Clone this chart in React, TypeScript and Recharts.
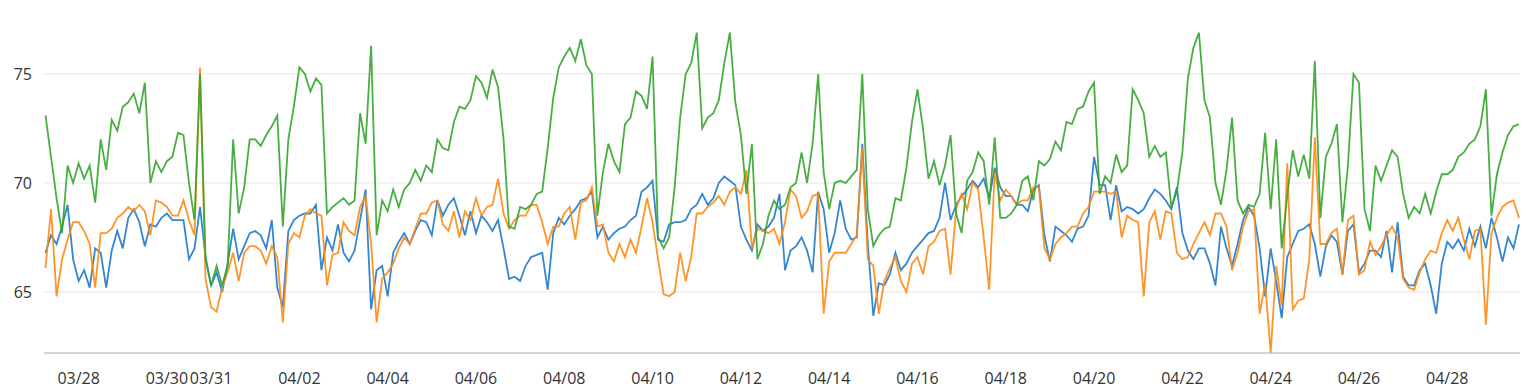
import { CartesianGrid, Line, LineChart, XAxis, YAxis } from "recharts"

// readings every 3 hours, starting 03/27 06:00 (hour -18 relative to 03/28 00:00)
const START_HOUR = -18
const STEP_HOURS = 3

const green = [
  73.1, 71.2, 69.3, 67.7, 70.8, 70.0, 70.9, 70.2, 70.8, 69.1,
  72.0, 70.6, 72.9, 72.4, 73.5, 73.7, 74.1, 73.2, 74.6, 70.0,
  71.0, 70.5, 71.0, 71.2, 72.3, 72.2, 70.0, 68.3, 75.0, 66.5,
  65.3, 66.2, 65.3, 66.2, 72.0, 68.6, 69.8, 72.0, 72.0, 71.7,
  72.2, 72.6, 73.1, 68.0, 72.0, 73.5, 75.3, 75.0, 74.2, 74.8,
  74.5, 68.6, 68.9, 69.1, 69.3, 69.0, 69.2, 73.2, 71.8, 76.3,
  67.6, 69.2, 68.7, 69.7, 68.9, 69.7, 70.0, 70.6, 70.1, 70.8,
  70.5, 72.0, 71.6, 71.5, 72.8, 73.5, 73.4, 73.8, 74.9, 74.6,
  73.9, 75.2, 74.4, 72.0, 68.0, 67.9, 68.9, 68.8, 69.0, 69.5,
  69.6, 71.6, 73.9, 75.3, 75.8, 76.2, 75.6, 76.6, 75.4, 75.0,
  68.5, 70.5, 71.8, 71.0, 70.5, 72.7, 73.0, 74.2, 74.0, 73.4,
  75.8, 67.5, 67.0, 67.5, 69.8, 73.0, 75.0, 75.5, 76.9, 72.5,
  73.0, 73.2, 73.8, 75.5, 76.9, 73.7, 72.2, 69.5, 71.8, 66.5,
  67.2, 68.5, 69.2, 68.8, 69.0, 69.8, 70.0, 71.4, 70.0, 71.8,
  75.0, 70.5, 68.8, 70.0, 70.1, 70.0, 70.3, 70.6, 75.0, 68.8,
  67.1, 67.6, 67.9, 68.0, 69.3, 69.2, 70.7, 72.8, 74.3, 72.5,
  70.2, 71.0, 69.9, 70.8, 72.2, 68.6, 67.7, 70.1, 70.5, 71.4,
  71.0, 69.0, 72.1, 68.4, 68.4, 68.6, 69.0, 70.1, 70.3, 69.2,
  71.0, 70.8, 71.1, 71.9, 71.5, 72.8, 72.7, 73.4, 73.5, 74.2,
  74.6, 69.5, 70.3, 70.0, 71.3, 70.5, 70.8, 74.3, 73.8, 73.2,
  71.2, 71.7, 71.2, 71.4, 68.9, 69.6, 71.4, 74.8, 76.2, 76.9,
  73.8, 73.0, 70.0, 69.0, 70.6, 73.0, 69.2, 68.6, 69.0, 68.9,
  69.5, 72.3, 68.8, 72.0, 67.0, 69.4, 71.5, 70.3, 71.3, 70.2,
  75.6, 68.4, 71.2, 71.8, 72.7, 68.2, 70.8, 75.0, 74.6, 68.8,
  67.8, 70.8, 70.1, 70.8, 71.5, 71.2, 69.5, 68.4, 68.9, 68.6,
  69.5, 68.6, 69.6, 70.4, 70.4, 70.6, 71.2, 71.4, 71.8, 72.0,
  72.6, 74.3, 68.5, 70.4, 71.4, 72.2, 72.6, 72.7,
]

const blue = [
  66.8, 67.6, 67.2, 68.0, 69.0, 66.5, 65.5, 66.0, 65.2, 67.0,
  66.8, 65.2, 66.9, 67.8, 67.0, 68.4, 68.8, 68.2, 67.1, 68.1,
  68.0, 68.4, 68.6, 68.3, 68.3, 68.3, 66.5, 67.0, 68.9, 66.6,
  65.3, 65.9, 65.0, 66.3, 67.9, 66.5, 67.1, 67.7, 67.8, 67.6,
  67.0, 68.3, 65.2, 64.3, 67.8, 68.3, 68.5, 68.6, 68.6, 69.0,
  66.0, 67.5, 66.9, 68.1, 66.8, 66.4, 66.9, 68.3, 69.7, 64.2,
  66.0, 66.2, 64.8, 66.8, 67.3, 67.7, 67.2, 67.8, 68.3, 68.2,
  67.6, 69.2, 68.5, 69.0, 69.3, 68.5, 67.6, 68.7, 67.7, 68.5,
  68.2, 67.8, 68.3, 67.0, 65.6, 65.7, 65.5, 66.2, 66.6, 66.7,
  66.8, 65.1, 67.7, 68.4, 68.1, 68.5, 68.8, 69.2, 69.3, 69.6,
  67.5, 68.0, 67.4, 67.7, 67.9, 68.0, 68.3, 68.5, 69.6, 69.8,
  70.1, 67.4, 67.3, 68.1, 68.2, 68.2, 68.3, 68.8, 69.0, 69.5,
  69.0, 69.3, 70.0, 70.3, 70.1, 69.9, 68.0, 67.4, 66.9, 68.1,
  67.8, 68.0, 68.4, 69.5, 66.0, 66.9, 67.1, 67.5, 66.9, 65.9,
  69.6, 68.8, 66.8, 67.7, 69.2, 67.9, 67.4, 67.5, 71.8, 67.2,
  63.9, 65.4, 65.3, 65.8, 66.8, 66.0, 66.3, 66.8, 67.1, 67.4,
  67.7, 67.8, 68.4, 70.0, 68.3, 69.0, 69.4, 69.7, 70.1, 69.8,
  70.2, 69.3, 70.7, 69.8, 69.4, 69.4, 69.0, 69.0, 68.7, 69.7,
  69.9, 67.6, 66.4, 68.0, 67.8, 67.6, 67.3, 67.9, 68.0, 68.5,
  71.2, 69.9, 69.9, 68.3, 69.9, 68.7, 68.9, 68.8, 68.6, 68.8,
  69.3, 69.7, 69.5, 69.2, 68.8, 69.8, 67.7, 66.9, 66.5, 67.0,
  67.0, 66.3, 65.3, 68.0, 67.0, 66.2, 67.2, 68.3, 68.9, 68.5,
  67.0, 64.8, 67.0, 65.5, 63.8, 66.6, 67.2, 67.8, 67.9, 68.1,
  67.2, 65.7, 67.1, 67.6, 67.3, 65.8, 67.8, 68.1, 65.9, 66.3,
  66.9, 66.9, 66.6, 67.8, 65.9, 68.2, 65.7, 65.3, 65.3, 66.0,
  66.3, 65.3, 64.0, 66.3, 67.3, 67.0, 67.4, 66.9, 67.9, 67.1,
  68.0, 67.0, 68.4, 67.5, 66.4, 67.5, 67.0, 68.1,
]

const orange = [
  66.1, 68.8, 64.8, 66.5, 67.4, 68.2, 68.2, 67.8, 67.2, 65.2,
  67.7, 67.7, 67.9, 68.4, 68.6, 68.9, 68.7, 69.0, 68.7, 67.6,
  69.2, 69.1, 68.9, 68.5, 68.5, 69.2, 68.3, 67.6, 75.3, 65.6,
  64.3, 64.1, 65.2, 65.9, 66.8, 65.5, 66.8, 67.1, 67.1, 66.9,
  66.3, 67.1, 66.6, 63.6, 67.2, 67.7, 67.5, 68.5, 68.8, 68.6,
  68.5, 65.3, 66.7, 66.8, 68.2, 67.8, 67.6, 68.9, 69.4, 67.2,
  63.6, 65.6, 65.9, 66.3, 67.0, 67.5, 67.2, 67.9, 68.6, 68.6,
  69.1, 69.2, 68.1, 67.8, 68.7, 67.5, 68.7, 68.3, 69.3, 68.5,
  68.9, 69.0, 70.2, 68.6, 67.9, 68.3, 68.5, 68.5, 69.0, 69.0,
  68.2, 67.2, 68.0, 68.0, 68.6, 68.9, 67.4, 69.1, 69.2, 69.8,
  68.0, 68.1, 66.8, 66.4, 67.2, 66.6, 67.4, 66.8, 68.0, 69.3,
  68.2, 66.5, 64.9, 64.8, 65.0, 66.8, 65.5, 66.6, 68.6, 68.6,
  68.9, 69.1, 69.4, 69.0, 69.6, 69.8, 69.5, 70.6, 67.0, 67.9,
  67.8, 67.7, 67.9, 67.2, 68.2, 69.7, 69.4, 68.4, 68.7, 69.4,
  69.5, 64.0, 66.4, 66.8, 66.8, 66.8, 67.2, 67.6, 71.6, 66.5,
  66.2, 64.0, 65.5, 66.1, 66.6, 65.5, 65.0, 66.3, 66.6, 65.8,
  67.1, 67.3, 67.8, 67.9, 65.8, 68.8, 69.5, 68.8, 70.0, 69.7,
  67.5, 65.1, 70.5, 69.2, 69.7, 69.4, 69.0, 69.2, 69.2, 69.8,
  69.8, 67.0, 66.5, 67.2, 67.5, 67.7, 68.0, 68.0, 68.6, 68.9,
  69.6, 69.6, 69.6, 69.5, 69.6, 67.5, 68.5, 68.3, 68.2, 64.8,
  68.2, 68.7, 67.4, 68.7, 68.6, 66.8, 66.5, 66.6, 67.2, 67.7,
  68.2, 67.6, 68.6, 68.6, 68.0, 66.0, 66.8, 68.0, 68.7, 68.8,
  64.0, 65.4, 62.2, 66.2, 64.4, 70.9, 64.2, 64.6, 64.7, 66.5,
  72.1, 67.2, 67.2, 67.7, 67.9, 65.8, 68.3, 68.5, 65.8, 66.0,
  67.3, 66.7, 67.1, 67.6, 68.0, 67.5, 65.6, 65.2, 65.1, 65.9,
  66.5, 66.9, 66.8, 67.7, 68.3, 67.8, 68.4, 67.4, 66.5, 67.8,
  67.9, 63.5, 67.7, 68.4, 68.9, 69.1, 69.2, 68.4,
]

// x ticks, in hours from 03/28 00:00
const xTickHours = [0, 48, 72, 120, 168, 216, 264, 312, 360, 408, 456, 504, 552, 600, 648, 696, 744]
const xTickLabels = [
  "03/28", "03/30", "03/31", "04/02", "04/04", "04/06", "04/08", "04/10", "04/12",
  "04/14", "04/16", "04/18", "04/20", "04/22", "04/24", "04/26", "04/28",
]
const yTicks = [65, 70, 75]

const data = green.map((g, i) => ({
  hour: START_HOUR + i * STEP_HOURS,
  blue: blue[i],
  orange: orange[i],
  green: g,
}))

const tickStyle = { fill: "#333333", fontSize: 16, fontFamily: "Open Sans" }

export default function App() {
  return (
    <LineChart width={1520} height={380} data={data} margin={{ top: 20, right: 8, bottom: 0, left: 0 }}>
      <CartesianGrid vertical={false} horizontalValues={yTicks} stroke="#e6e6e6" />
      <XAxis
        dataKey="hour"
        type="number"
        domain={[-18.82, 783.54]}
        allowDataOverflow
        ticks={xTickHours}
        interval={0}
        tickFormatter={(h) => xTickLabels[xTickHours.indexOf(h)] ?? ""}
        height={35}
        tickLine={false}
        tickSize={0}
        tickMargin={20}
        axisLine={{ stroke: "#aaaaaa" }}
        tick={tickStyle}
      />
      <YAxis
        type="number"
        domain={[62.2, 77.11]}
        allowDataOverflow
        ticks={yTicks}
        width={36}
        axisLine={false}
        tickLine={false}
        tickSize={0}
        tickMargin={12}
        tick={tickStyle}
      />
      <Line type="linear" dataKey="blue" stroke="#2a80cf" strokeWidth={1.8} strokeOpacity={0.95} dot={false} isAnimationActive={false} />
      <Line type="linear" dataKey="orange" stroke="#ff8a12" strokeWidth={1.8} strokeOpacity={0.9} dot={false} isAnimationActive={false} />
      <Line type="linear" dataKey="green" stroke="#34a52c" strokeWidth={1.8} strokeOpacity={0.9} dot={false} isAnimationActive={false} />
    </LineChart>
  )
}
